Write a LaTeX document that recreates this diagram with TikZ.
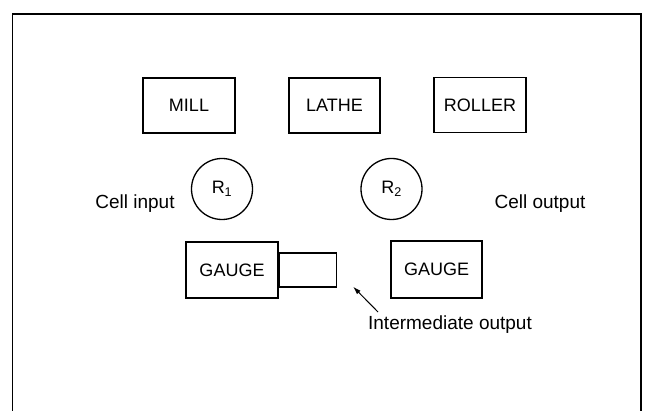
\documentclass[tikz,border=0pt]{standalone}
\usepackage{fontspec}
\setmainfont{Liberation Sans}
\usetikzlibrary{arrows.meta}
\begin{document}
\begin{tikzpicture}[x=1pt,y=-1pt,
  box/.style={draw,line width=1.4pt,inner sep=0pt,font=\fontsize{18}{20}\selectfont},
  rob/.style={draw,circle,line width=1.3pt,inner sep=0pt,minimum size=61pt,font=\fontsize{18}{20}\selectfont},
  lbl/.style={inner sep=0pt,font=\fontsize{19}{21}\selectfont}]
\useasboundingbox (0,0) rectangle (655,411);
\draw[line width=1.5pt] (12.5,411) -- (12.5,14) -- (641,14) -- (641,411);
\node[box,minimum width=92pt,minimum height=55pt] (mill) at (189,105.5) {MILL};
\node[box,minimum width=91pt,minimum height=55pt] (lathe) at (334.5,105.5) {LATHE};
\node[box,minimum width=92pt,minimum height=55pt] (roller) at (480,105) {ROLLER};
\node[rob] (r1) at (222,189) {R\textsubscript{1}};
\node[rob] (r2) at (391.5,189) {R\textsubscript{2}};
\node[lbl] (cin) at (135,204) {Cell input};
\node[lbl] (cout) at (540,204) {Cell output};
\node[box,minimum width=92pt,minimum height=56pt] (g1) at (232,270) {GAUGE};
\node[box,minimum width=57pt,minimum height=34pt,anchor=west] (buf) at (g1.east |- 0,270) {};
\node[box,minimum width=91pt,minimum height=57pt] (g2) at (436.5,269.5) {GAUGE};
\node[lbl] (inter) at (450,325) {Intermediate output};
\coordinate (tail) at (378,312);
\draw[line width=1pt,-{Latex[length=8pt,width=5pt]}] (tail) -- ([shift={(16,-1)}]buf.south east);
\end{tikzpicture}
\end{document}
